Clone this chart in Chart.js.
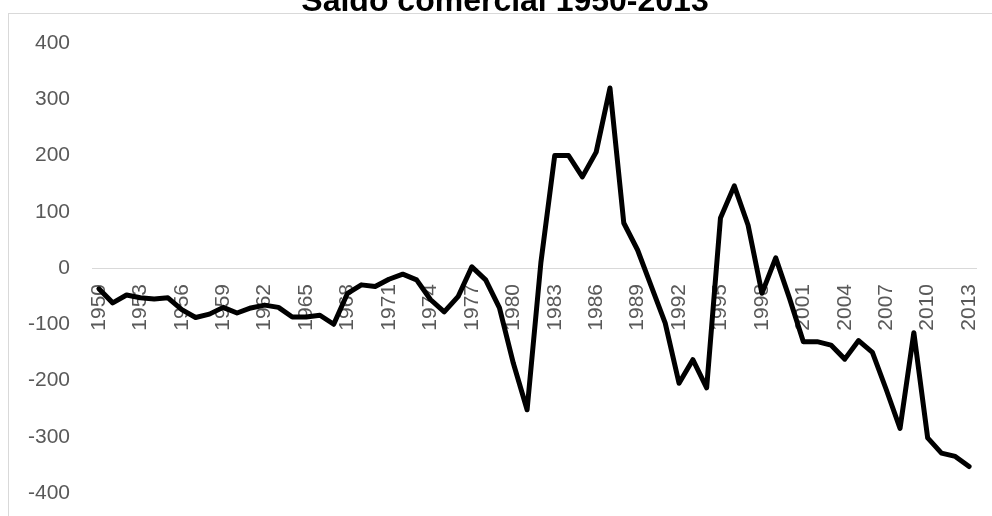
<!DOCTYPE html>
<html>
<head>
<meta charset="utf-8">
<script src="https://cdn.jsdelivr.net/npm/chart.js@4.4.1/dist/chart.umd.min.js"></script>
<style>
  html, body { margin: 0; padding: 0; background: #ffffff; }
  #wrap { position: relative; width: 992px; height: 516px; }
</style>
</head>
<body>
<div id="wrap"><canvas id="c" width="992" height="516"></canvas></div>
<script>
// Trade balance by year
const years = [
  1950, 1951, 1952, 1953, 1954, 1955, 1956, 1957, 1958, 1959,
  1960, 1961, 1962, 1963, 1964, 1965, 1966, 1967, 1968, 1969,
  1970, 1971, 1972, 1973, 1974, 1975, 1976, 1977, 1978, 1979,
  1980, 1981, 1982, 1983, 1984, 1985, 1986, 1987, 1988, 1989,
  1990, 1991, 1992, 1993, 1994, 1995, 1996, 1997, 1998, 1999,
  2000, 2001, 2002, 2003, 2004, 2005, 2006, 2007, 2008, 2009,
  2010, 2011, 2012, 2013
];
const saldo = [
  -37, -62, -48, -53, -55, -53, -74, -88, -82, -70,
  -80, -71, -66, -70, -87, -87, -84, -100, -45, -30,
  -33, -20, -11, -21, -56, -78, -51, 2, -21, -71,
  -169, -252, 10, 200, 200, 162, 206, 320, 80, 32,
  -33, -98, -205, -163, -213, 89, 146, 76, -45, 18,
  -54, -131, -131, -137, -162, -129, -150, -216, -285, -115,
  -302, -329, -335, -353
];
const yTicks = [-400, -300, -200, -100, 0, 100, 200, 300, 400];
const titleText = 'Saldo comercial 1950-2013';

// Outer frame and the heading drawn on the canvas
const frameAndTitle = {
  id: 'frameAndTitle',
  beforeDraw(chart) {
    const ctx = chart.ctx;
    ctx.save();
    ctx.fillStyle = '#ffffff';
    ctx.fillRect(0, 0, chart.width, chart.height);
    ctx.strokeStyle = '#d9d9d9';
    ctx.lineWidth = 1;
    ctx.strokeRect(8.5, 13.5, chart.width + 20, chart.height + 20);
    ctx.restore();
  },
  afterDraw(chart) {
    const ctx = chart.ctx;
    ctx.save();
    ctx.fillStyle = '#000000';
    ctx.font = 'bold 32px "Liberation Sans", Arial, sans-serif';
    ctx.textAlign = 'center';
    ctx.textBaseline = 'alphabetic';
    ctx.fillText(titleText, 505, 11);
    ctx.restore();
  }
};

// Axes keep the plot area exactly where the layout padding puts it
function noExtraPadding(scale) {
  scale.paddingLeft = 0;
  scale.paddingRight = 0;
  scale.paddingTop = 0;
  scale.paddingBottom = 0;
}

new Chart(document.getElementById('c'), {
  type: 'line',
  data: {
    labels: years.map(String),
    datasets: [{
      label: 'Saldo comercial',
      data: saldo,
      borderColor: '#000000',
      borderWidth: 5,
      borderJoinStyle: 'round',
      borderCapStyle: 'round',
      pointRadius: 0,
      pointHoverRadius: 0,
      tension: 0,
      fill: false
    }]
  },
  options: {
    responsive: false,
    animation: false,
    events: [],
    layout: { padding: { left: 0, right: 16, top: 43, bottom: 23 } },
    plugins: {
      legend: { display: false },
      title: { display: false },
      tooltip: { enabled: false }
    },
    scales: {
      x: {
        type: 'category',
        position: { y: 0 },
        offset: true,
        afterFit: noExtraPadding,
        grid: { display: false, drawTicks: false },
        border: { display: true, color: '#d9d9d9', width: 1 },
        ticks: {
          autoSkip: false,
          minRotation: 90,
          maxRotation: 90,
          padding: 16,
          color: '#595959',
          font: { family: '"Liberation Sans", Arial, sans-serif', size: 21 },
          callback: function (value, index) {
            return index % 3 === 0 ? this.getLabelForValue(value) : '';
          }
        }
      },
      y: {
        min: -400,
        max: 400,
        afterFit(scale) { noExtraPadding(scale); scale.width = 92; },
        afterBuildTicks(scale) { scale.ticks = yTicks.map(v => ({ value: v })); },
        grid: { display: false, drawTicks: false },
        border: { display: false },
        ticks: {
          padding: 22,
          color: '#595959',
          font: { family: '"Liberation Sans", Arial, sans-serif', size: 21 }
        }
      }
    }
  },
  plugins: [frameAndTitle]
});
</script>
</body>
</html>
